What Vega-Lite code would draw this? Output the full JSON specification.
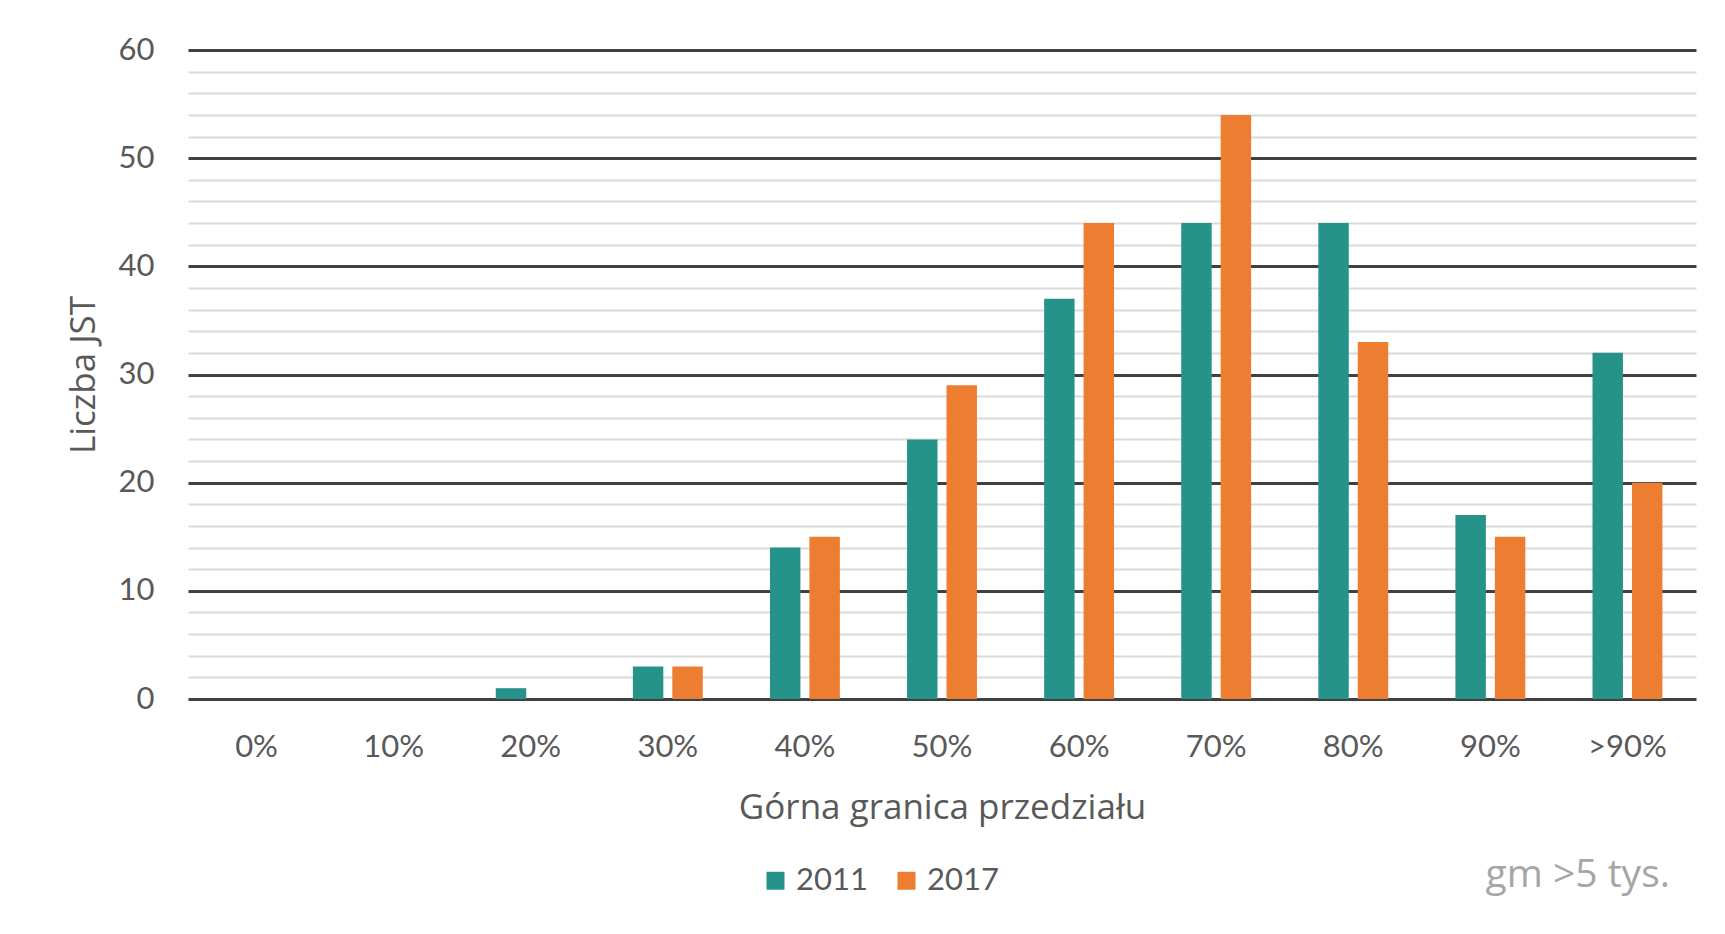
{
  "$schema": "https://vega.github.io/schema/vega-lite/v6.json",
  "width": 1508,
  "height": 649,
  "autosize": {"type": "none"},
  "padding": {"left": 188, "top": 50, "right": 29, "bottom": 235},
  "background": "white",
  "config": {"view": {"stroke": null}, "font": "Lato"},
  "data": {
    "values": [
      {"cat": "0%", "year": "2011", "value": 0},
      {"cat": "0%", "year": "2017", "value": 0},
      {"cat": "10%", "year": "2011", "value": 0},
      {"cat": "10%", "year": "2017", "value": 0},
      {"cat": "20%", "year": "2011", "value": 1},
      {"cat": "20%", "year": "2017", "value": 0},
      {"cat": "30%", "year": "2011", "value": 3},
      {"cat": "30%", "year": "2017", "value": 3},
      {"cat": "40%", "year": "2011", "value": 14},
      {"cat": "40%", "year": "2017", "value": 15},
      {"cat": "50%", "year": "2011", "value": 24},
      {"cat": "50%", "year": "2017", "value": 29},
      {"cat": "60%", "year": "2011", "value": 37},
      {"cat": "60%", "year": "2017", "value": 44},
      {"cat": "70%", "year": "2011", "value": 44},
      {"cat": "70%", "year": "2017", "value": 54},
      {"cat": "80%", "year": "2011", "value": 44},
      {"cat": "80%", "year": "2017", "value": 33},
      {"cat": "90%", "year": "2011", "value": 17},
      {"cat": "90%", "year": "2017", "value": 15},
      {"cat": ">90%", "year": "2011", "value": 32},
      {"cat": ">90%", "year": "2017", "value": 20}
    ]
  },
  "title": {
    "text": "gm >5 tys.",
    "orient": "bottom",
    "anchor": "end",
    "frame": "group",
    "color": "#a6a6a6",
    "fontSize": 39,
    "fontWeight": "normal",
    "font": "Open Sans",
    "offset": 30,
    "dy": -70,
    "dx": -26
  },
  "mark": {"type": "bar"},
  "encoding": {
    "x": {
      "field": "cat",
      "type": "nominal",
      "sort": ["0%", "10%", "20%", "30%", "40%", "50%", "60%", "70%", "80%", "90%", ">90%"],
      "scale": {"paddingInner": 0.49, "paddingOuter": 0.245},
      "axis": {
        "title": "Górna granica przedziału",
        "labelAngle": 0,
        "ticks": false,
        "domain": false,
        "labelPadding": 33,
        "labelFontSize": 31,
        "labelColor": "#595959",
        "titleFont": "Open Sans",
        "titleFontSize": 35,
        "titleColor": "#595959",
        "titleFontWeight": "normal",
        "titlePadding": 28
      }
    },
    "xOffset": {
      "field": "year",
      "type": "nominal",
      "scale": {"paddingInner": 0.228}
    },
    "y": {
      "field": "value",
      "type": "quantitative",
      "scale": {"domain": [0, 60], "nice": false},
      "axis": {
        "values": [0, 2, 4, 6, 8, 10, 12, 14, 16, 18, 20, 22, 24, 26, 28, 30, 32, 34, 36, 38, 40, 42, 44, 46, 48, 50, 52, 54, 56, 58, 60],
        "labelExpr": "datum.value % 10 === 0 ? datum.label : ''",
        "title": "Liczba JST",
        "ticks": false,
        "domain": false,
        "grid": true,
        "gridColor": {"condition": {"test": "datum.value % 10 === 0", "value": "#404040"}, "value": "#d9d9d9"},
        "gridWidth": {"condition": {"test": "datum.value % 10 === 0", "value": 3}, "value": 2},
        "labelPadding": 34,
        "labelFontSize": 31,
        "labelColor": "#595959",
        "titleFont": "Open Sans",
        "titleFontSize": 35,
        "titleColor": "#595959",
        "titleFontWeight": "normal",
        "titlePadding": 17
      }
    },
    "color": {
      "field": "year",
      "type": "nominal",
      "scale": {"domain": ["2011", "2017"], "range": ["#26938b", "#ed7d31"]},
      "legend": {
        "title": null,
        "orient": "none",
        "legendX": 572,
        "legendY": 815,
        "direction": "horizontal",
        "symbolType": "square",
        "symbolSize": 324,
        "symbolStrokeWidth": 0,
        "labelFontSize": 31,
        "labelColor": "#595959",
        "labelOffset": 5,
        "columnPadding": 23
      }
    }
  }
}
